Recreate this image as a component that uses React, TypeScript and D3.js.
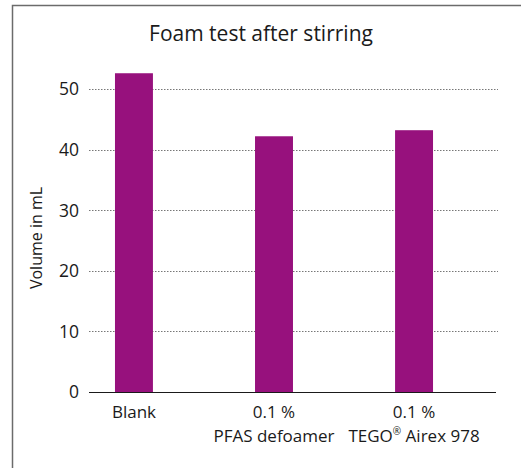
import React, { useRef, useEffect } from 'react';
import * as d3 from 'd3';

const categories: string[][] = [['Blank'], ['0.1 %', 'PFAS defoamer'], ['0.1 %', 'TEGO® Airex 978']];
const values: number[] = [52.6, 42.2, 43.2];
const yTicks: number[] = [0, 10, 20, 30, 40, 50];

const width = 521;
const height = 468;
const font = "'Open Sans', 'Noto Sans', sans-serif";

function App() {
    const ref = useRef<SVGSVGElement>(null);

    useEffect(() => {
        if (!ref.current) return;
        const svg = d3.select(ref.current);
        svg.selectAll('*').remove();
        svg.attr('font-family', font);

        const y = d3.scaleLinear().domain([0, 50]).range([392, 89]);
        const x = d3.scaleBand<number>()
            .domain(d3.range(values.length))
            .range([64, 484])
            .paddingInner(0.729)
            .paddingOuter(0.364);

        // frame
        svg.append('path')
            .attr('d', `M12.5,${height} V5.5 H${width}`)
            .attr('fill', 'none')
            .attr('stroke', '#6b6b6b')
            .attr('stroke-width', 1.5);

        svg.append('text')
            .attr('x', 261)
            .attr('y', 41)
            .attr('text-anchor', 'middle')
            .attr('font-size', 21)
            .attr('fill', '#1a1a1a')
            .text('Foam test after stirring');

        // grid
        svg.append('g')
            .selectAll('line')
            .data(yTicks.filter(t => t > 0))
            .join('line')
            .attr('x1', 89)
            .attr('x2', 498)
            .attr('y1', d => Math.round(y(d)) + 0.5)
            .attr('y2', d => Math.round(y(d)) + 0.5)
            .attr('stroke', '#777')
            .attr('stroke-width', 1)
            .attr('stroke-dasharray', '1.5,1.5');

        svg.append('g')
            .selectAll('text')
            .data(yTicks)
            .join('text')
            .attr('x', 79)
            .attr('y', d => y(d))
            .attr('dy', '0.36em')
            .attr('text-anchor', 'end')
            .attr('font-size', 17.5)
            .attr('fill', '#1a1a1a')
            .text(d => d);

        svg.append('text')
            .attr('transform', `translate(42,238) rotate(-90)`)
            .attr('text-anchor', 'middle')
            .attr('font-size', 16)
            .attr('fill', '#1a1a1a')
            .text('Volume in mL');

        svg.append('g')
            .selectAll('rect')
            .data(values)
            .join('rect')
            .attr('x', (_, i) => x(i)!)
            .attr('width', x.bandwidth())
            .attr('y', d => y(d))
            .attr('height', d => y(0) - y(d))
            .attr('fill', '#97117d');

        svg.append('line')
            .attr('x1', 89)
            .attr('x2', 496)
            .attr('y1', y(0) + 0.5)
            .attr('y2', y(0) + 0.5)
            .attr('stroke', '#1a1a1a')
            .attr('stroke-width', 1.2);

        const lab = svg.append('g')
            .selectAll('text')
            .data(categories)
            .join('text')
            .attr('text-anchor', 'middle')
            .attr('font-size', 17)
            .attr('fill', '#1a1a1a');

        lab.each(function (lines, i) {
            const t = d3.select(this);
            const cx = x(i)! + x.bandwidth() / 2;
            lines.forEach((line, j) => {
                const ty = 418 + j * 24;
                if (line.includes('®')) {
                    const [a, b] = line.split('®');
                    t.append('tspan').attr('x', cx).attr('y', ty).text(a);
                    t.append('tspan').attr('font-size', 10).attr('dy', -7).text('®');
                    t.append('tspan').attr('dy', 7).text(b);
                } else {
                    t.append('tspan').attr('x', cx).attr('y', ty).text(line);
                }
            });
        });
    }, []);

    return <svg ref={ref} width={width} height={height} style={{ position: 'absolute', left: 0, top: 0 }} />;
}

export default App;
